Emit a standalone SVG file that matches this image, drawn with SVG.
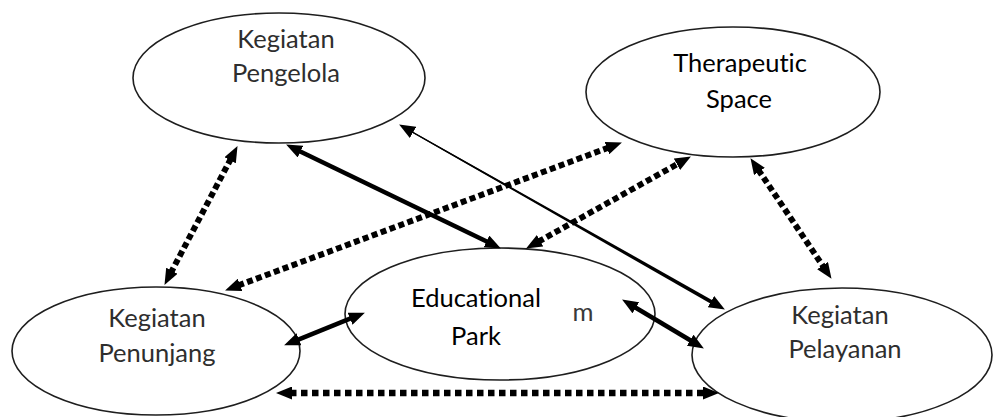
<svg xmlns="http://www.w3.org/2000/svg" width="994" height="417" viewBox="0 0 994 417">
  <style>
    .node { fill: #ffffff; stroke: #1e1e1e; stroke-width: 1.6; }
    .lbl { font-family: Lato, "Liberation Sans", sans-serif; font-size: 25.5px; text-anchor: middle; fill: #2e2e2e; font-variant-ligatures: none; }
    .lbl2 { font-family: Lato, "Liberation Sans", sans-serif; font-size: 25.5px; text-anchor: middle; fill: #000000; font-variant-ligatures: none; }
    .solid { fill: none; stroke: #000; stroke-width: 4.5; marker-start: url(#ah); marker-end: url(#ah); }
    .thin { fill: none; stroke: #000; stroke-width: 1.2; marker-start: url(#ah); marker-end: url(#ah); }
    .dot { fill: none; stroke: #000; stroke-width: 6; stroke-dasharray: 6 3.5; marker-start: url(#ah); marker-end: url(#ah); }
    .dotb { fill: none; stroke: #000; stroke-width: 6.5; stroke-dasharray: 6.5 4.5; marker-start: url(#ah); marker-end: url(#ah); }
  </style>
  <defs>
    <marker id="ah" viewBox="0 0 16 13" refX="2" refY="6.5" markerWidth="16" markerHeight="13" markerUnits="userSpaceOnUse" orient="auto-start-reverse">
      <path d="M0,0 L16,6.5 L0,13 Z" fill="#000"/>
    </marker>
  </defs>
  <rect width="994" height="417" fill="#ffffff"/>

  <g id="node-pengelola">
    <ellipse class="node" cx="279" cy="78" rx="146" ry="65"/>
    <text class="lbl" x="286" y="48">Kegiatan</text>
    <text class="lbl" x="286" y="82">Pengelola</text>
  </g>
  <g id="node-therapeutic">
    <ellipse class="node" cx="733" cy="92" rx="147" ry="65"/>
    <text class="lbl2" x="740" y="72">Therapeutic</text>
    <text class="lbl2" x="739" y="108">Space</text>
  </g>
  <g id="node-educational">
    <ellipse class="node" cx="500" cy="314" rx="155" ry="66"/>
    <text class="lbl2" x="476" y="307">Educational</text>
    <text class="lbl2" x="476" y="345">Park</text>
    <text class="lbl" x="583" y="321" style="fill:#3a3a3a">m</text>
  </g>
  <g id="node-penunjang">
    <ellipse class="node" cx="156" cy="351" rx="144" ry="64"/>
    <text class="lbl" x="157" y="327">Kegiatan</text>
    <text class="lbl" x="157" y="362">Penunjang</text>
  </g>
  <g id="node-pelayanan">
    <ellipse class="node" cx="842" cy="355" rx="150" ry="67"/>
    <text class="lbl" x="840" y="324">Kegiatan</text>
    <text class="lbl" x="845" y="358">Pelayanan</text>
  </g>

  <g id="connectors">
    <path class="dot" d="M231,158.5 L171,272.5"/>
    <path class="solid" d="M298.7,150.7 L488.3,242.3"/>
    <path class="thin" d="M411.3,131.4 L712.7,302.6"/>
    <polygon points="411.6,130.9 713.7,300.9 711.7,304.3 411,131.9" fill="#000"/>
    <path class="dot" d="M238.2,285.5 L608.8,147.5"/>
    <path class="dot" d="M538.3,241.7 L678.7,163.3"/>
    <path class="dot" d="M758.3,169.8 L823.7,267.2"/>
    <path class="solid" d="M297.1,340.1 L351.9,317.9"/>
    <path class="solid" d="M634.1,306.7 L691.9,341.3"/>
    <path class="dotb" d="M290,393 L705,393"/>
  </g>
</svg>
